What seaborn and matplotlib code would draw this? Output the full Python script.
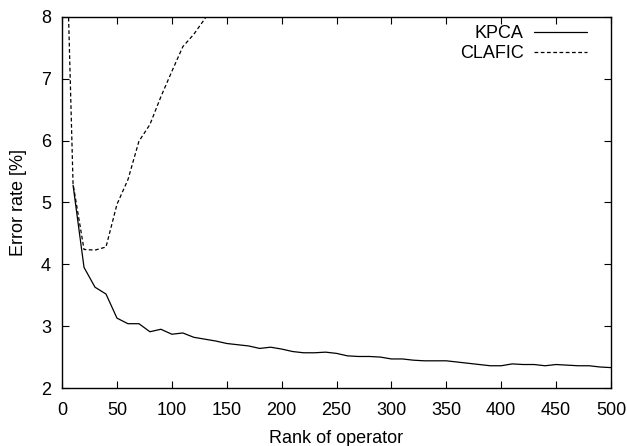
import matplotlib
matplotlib.use("Agg")
import matplotlib.pyplot as plt
import seaborn as sns
import numpy as np
import pandas as pd

# KPCA error rate vs rank
kpca_rank = [10, 20, 30, 40, 50, 60, 70, 80, 90, 100, 110, 120, 130, 140, 150, 160, 170, 180, 190, 200,
             210, 220, 230, 240, 250, 260, 270, 280, 290, 300, 310, 320, 330, 340, 350, 360, 370, 380, 390, 400,
             410, 420, 430, 440, 450, 460, 470, 480, 490, 500]
kpca_err = [5.28, 3.95, 3.63, 3.52, 3.13, 3.04, 3.04, 2.91, 2.95, 2.87, 2.89, 2.82, 2.79, 2.76, 2.72, 2.70, 2.68, 2.64, 2.66, 2.63,
            2.59, 2.57, 2.57, 2.58, 2.56, 2.52, 2.51, 2.51, 2.50, 2.47, 2.47, 2.45, 2.44, 2.44, 2.44, 2.42, 2.40, 2.38, 2.36, 2.36,
            2.39, 2.38, 2.38, 2.36, 2.38, 2.37, 2.36, 2.36, 2.34, 2.33]

# CLAFIC error rate vs rank (goes off the top of the plot)
clafic_rank = [5, 10, 20, 30, 40, 50, 60, 70, 80, 90, 100, 110, 120, 130, 140]
clafic_err = [8.6, 5.3, 4.24, 4.23, 4.28, 4.97, 5.37, 5.99, 6.26, 6.71, 7.12, 7.52, 7.72, 7.97, 8.25]

df = pd.concat([
    pd.DataFrame({"rank": kpca_rank, "err": kpca_err, "method": "KPCA"}),
    pd.DataFrame({"rank": clafic_rank, "err": clafic_err, "method": "CLAFIC"}),
])

sns.set_style("ticks")
plt.rcParams['font.family'] = ['Liberation Sans', 'DejaVu Sans']
plt.rcParams['font.size'] = 13
for key in ['text.color', 'axes.labelcolor', 'xtick.color', 'ytick.color', 'axes.edgecolor']:
    plt.rcParams[key] = 'black'

fig = plt.figure(figsize=(6.27, 4.46), dpi=100)
ax = fig.add_axes([0.099, 0.130, 0.8755, 0.832])
sns.lineplot(data=df, x="rank", y="err", hue="method", style="method",
             palette={"KPCA": "black", "CLAFIC": "black"},
             dashes={"KPCA": "", "CLAFIC": (3, 2)}, linewidth=0.9, ax=ax)

ax.set_xlim(0, 500)
ax.set_ylim(2, 8)
ax.set_xticks(np.arange(0, 501, 50))
ax.set_yticks(np.arange(2, 9, 1))
ax.tick_params(direction="in", top=True, right=True, length=5, width=0.8, labelsize=13)
ax.tick_params(axis="x", pad=10)
ax.tick_params(axis="y", pad=8)
for s in ax.spines.values():
    s.set_linewidth(1.0)
ax.set_xlabel("Rank of operator", fontsize=13, labelpad=8)
ax.set_ylabel("Error rate [%]", fontsize=13, labelpad=10)

# legend: text on the left, line sample on the right, like gnuplot
leg = ax.legend(loc="upper right", bbox_to_anchor=(0.956, 0.977), frameon=False,
                markerfirst=False, handlelength=2.9, handletextpad=0.6,
                fontsize=13, borderaxespad=0, borderpad=0, labelspacing=0.15)
for t in leg.get_texts():
    t.set_ha("right")

fig.savefig("out.png", dpi=100)
